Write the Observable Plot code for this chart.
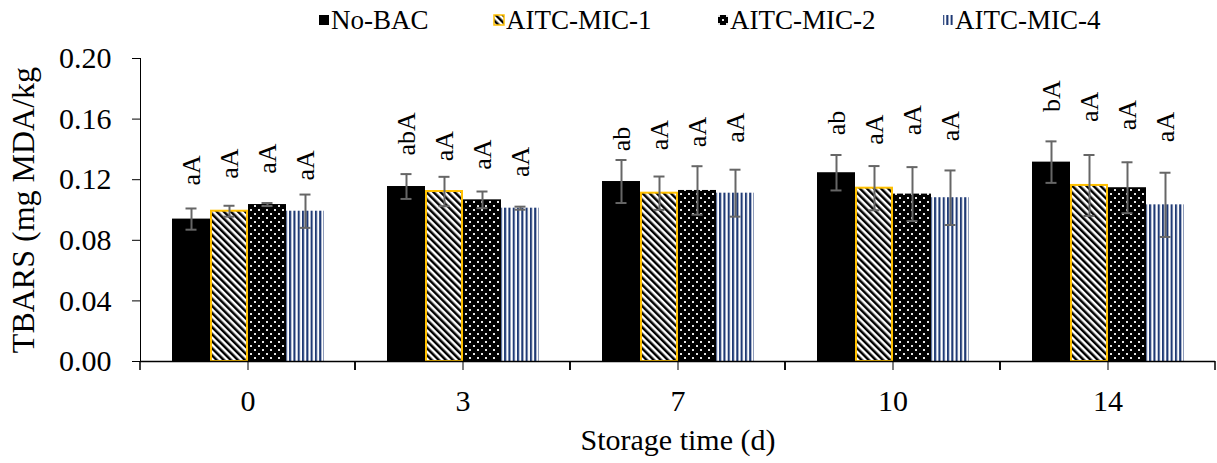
<!DOCTYPE html>
<html><head><meta charset="utf-8">
<script src="https://cdn.jsdelivr.net/npm/d3@7"></script>
<script src="https://cdn.jsdelivr.net/npm/@observablehq/plot@0.6"></script>
<style>
body{margin:0;background:#fff;font-family:"Liberation Serif",serif;color:#000;}
#legend{position:relative;height:40px;width:1217px;font-size:27px;font-family:"Liberation Serif",serif;}
.item{position:absolute;top:0;height:40px;display:flex;align-items:center;white-space:nowrap;}
.item svg{margin-right:1px;}
#chart g[aria-label="y-axis label"] text{font-size:32px;}
</style></head><body>
<svg width="0" height="0" style="position:absolute">
<defs>
 <pattern id="pat-mic1" patternUnits="userSpaceOnUse" width="5" height="5" patternTransform="rotate(-45)">
   <rect width="5" height="5" fill="white"/><rect width="2.5" height="5" fill="black"/>
 </pattern>
 <pattern id="pat-mic2" patternUnits="userSpaceOnUse" width="8" height="8">
   <rect width="8" height="8" fill="black"/><rect x="1" y="1" width="2" height="2" fill="#e6e6e6"/><rect x="5" y="5" width="2" height="2" fill="#e6e6e6"/>
 </pattern>
 <pattern id="pat-mic4" patternUnits="userSpaceOnUse" width="4.3" height="4">
   <rect width="4.3" height="4" fill="white"/><rect width="2.1" height="4" fill="#1f3a75"/>
 </pattern>
</defs>
</svg>
<div id="legend"></div>
<div id="chart"></div>
<script>
const days = ["0", "3", "7", "10", "14"];
const series = ["No-BAC", "AITC-MIC-1", "AITC-MIC-2", "AITC-MIC-4"];
const yTicks = [0, 0.04, 0.08, 0.12, 0.16, 0.20];

const noBac = [0.094, 0.1155, 0.1188, 0.1246, 0.1316];
const mic1  = [0.0992, 0.1122, 0.1111, 0.1144, 0.1162];
const mic2  = [0.1036, 0.1067, 0.1129, 0.1105, 0.1147];
const mic4  = [0.0992, 0.1012, 0.1111, 0.1081, 0.1034];

const noBacSd = [0.007, 0.0082, 0.0142, 0.0117, 0.0137];
const mic1Sd  = [0.0036, 0.0097, 0.011, 0.0146, 0.0201];
const mic2Sd  = [0.001, 0.0055, 0.016, 0.0178, 0.0168];
const mic4Sd  = [0.011, 0.001, 0.0155, 0.018, 0.0212];

const noBacLetters = ["aA", "abA", "ab", "ab", "bA"];
const mic1Letters  = ["aA", "aA", "aA", "aA", "aA"];
const mic2Letters  = ["aA", "aA", "aA", "aA", "aA"];
const mic4Letters  = ["aA", "aA", "aA", "aA", "aA"];

// height (y value) at which each letter label starts
const noBacLabelY = [0.1162, 0.136, 0.1387, 0.1493, 0.1647];
const mic1LabelY  = [0.1206, 0.1321, 0.1394, 0.1431, 0.1581];
const mic2LabelY  = [0.1239, 0.1266, 0.1415, 0.1493, 0.1526];
const mic4LabelY  = [0.1195, 0.1217, 0.1444, 0.1453, 0.1448];

const means = [noBac, mic1, mic2, mic4];
const sds = [noBacSd, mic1Sd, mic2Sd, mic4Sd];
const letters = [noBacLetters, mic1Letters, mic2Letters, mic4Letters];
const labelYs = [noBacLabelY, mic1LabelY, mic2LabelY, mic4LabelY];
const fills = ["black", "url(#pat-mic1)", "url(#pat-mic2)", "url(#pat-mic4)"];
const strokes = ["none", "#ffc000", "none", "none"];
const legendLeft = [318, 493, 717, 942];

const rows = [];
days.forEach((day, i) => series.forEach((s, j) => rows.push({
  day, series: s, mean: means[j][i], sd: sds[j][i], letter: letters[j][i], labelY: labelYs[j][i]
})));

// legend
const legend = d3.select("#legend");
series.forEach((s, j) => {
  const it = legend.append("div").attr("class", "item").style("left", legendLeft[j] + "px");
  const sw = it.append("svg").attr("width", 12).attr("height", 12);
  sw.append("rect").attr("x", 1).attr("y", 1).attr("width", 10).attr("height", 10)
    .attr("fill", fills[j]).attr("stroke", strokes[j]).attr("stroke-width", 1.5);
  it.append("span").text(s);
});

const errColor = "#666666";

function boundaryTicks(index, scales, values, dimensions) {
  const {marginLeft, marginRight, marginBottom, width, height} = dimensions;
  const g = d3.create("svg:g").attr("stroke", "black").attr("stroke-width", 1.5);
  const y0 = height - marginBottom;
  for (const x of [marginLeft, width - marginRight]) {
    g.append("line").attr("x1", x).attr("x2", x).attr("y1", y0).attr("y2", y0 + 9);
  }
  return g.node();
}

const chart = Plot.plot({
  width: 1217,
  height: 423,
  marginLeft: 139,
  marginRight: 1,
  marginTop: 18,
  marginBottom: 102,
  style: {fontFamily: "Liberation Serif", fontSize: "30px", color: "black", background: "white"},
  facet: {data: rows, x: "day"},
  fx: {domain: days, padding: 0, axis: "bottom", label: "Storage time (d)", labelAnchor: "center", labelOffset: 88, labelArrow: "none", tickSize: 9, tickPadding: 19},
  x: {type: "band", domain: series, paddingInner: 0, paddingOuter: 0.76, axis: null},
  y: {domain: [0, 0.2], ticks: yTicks, tickFormat: d3.format(".2f"), tickSize: 8, tickPadding: 21, line: true,
      label: "TBARS (mg MDA/kg", labelAnchor: "center", labelOffset: 129, labelArrow: "none"},
  color: {domain: series, range: fills},
  marks: [
    Plot.barY(rows, {x: "series", y: "mean", fill: "series"}),
    Plot.barY(rows, {filter: d => d.series === "AITC-MIC-1", x: "series", y: "mean", fill: "none", stroke: "#ffc000", strokeWidth: 2, insetLeft: 1, insetRight: 1}),
    Plot.ruleX(rows, {x: "series", y1: d => d.mean - d.sd, y2: d => d.mean + d.sd, stroke: errColor, strokeWidth: 2}),
    Plot.tickY(rows, {x: "series", y: d => d.mean + d.sd, stroke: errColor, strokeWidth: 2, insetLeft: 13.5, insetRight: 13.5}),
    Plot.tickY(rows, {x: "series", y: d => d.mean - d.sd, stroke: errColor, strokeWidth: 2, insetLeft: 13.5, insetRight: 13.5}),
    Plot.text(rows, {x: "series", y: "labelY", text: "letter", rotate: -90, textAnchor: "start", lineAnchor: "middle", fontSize: 26, fill: "black"}),
    Plot.ruleY([0], {stroke: "black", strokeWidth: 1.5}),
    boundaryTicks
  ]
});
document.getElementById("chart").appendChild(chart);
</script>
</body></html>
